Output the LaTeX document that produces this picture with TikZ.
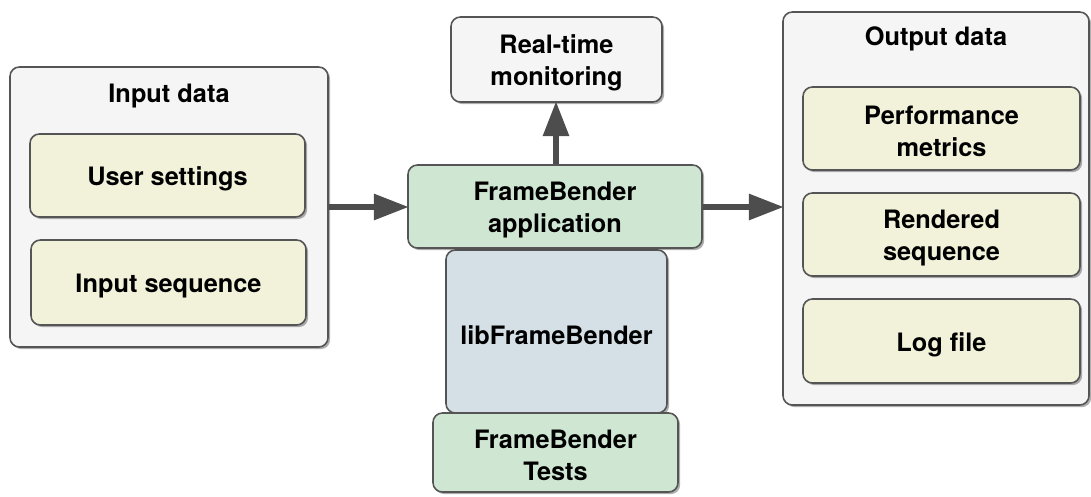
\documentclass[tikz,border=0pt]{standalone}
\usepackage{fontspec}
\setmainfont{TeX Gyre Heros}
\usetikzlibrary{shadows,arrows.meta}
\definecolor{edge}{HTML}{555555}
\definecolor{arrowgray}{HTML}{4D4D4D}
\definecolor{panelfill}{HTML}{F5F5F5}
\definecolor{datafill}{HTML}{F2F1DA}
\definecolor{appfill}{HTML}{CFE6D3}
\definecolor{libfill}{HTML}{D5E0E6}
\tikzset{
  box/.style 2 args={draw=edge, line width=1.2pt, rounded corners=7pt, inner sep=0pt,
    minimum width=#1, minimum height=#2,
    drop shadow={shadow xshift=1.6pt, shadow yshift=-1.6pt, opacity=0.45, fill=black!70}},
  boxtext/.style={align=center, inner sep=0pt, yshift=-2.5pt,
    font=\bfseries\fontsize{19}{24}\selectfont},
  panel/.style={fill=panelfill},
  datum/.style={fill=datafill},
  app/.style={fill=appfill},
  lib/.style={fill=libfill},
  title/.style={font=\bfseries\fontsize{19}{24}\selectfont, inner sep=0pt},
  flow/.style={draw=arrowgray, line width=3.8pt,
    -{Triangle[length=26pt,width=19pt]}, shorten >=-1pt},
}
\begin{document}
\begin{tikzpicture}[x=0.75pt,y=-0.75pt]
\useasboundingbox (0,0) rectangle (1091,496);

% input panel
\node[box={238.5pt}{210pt}, panel] (inpanel) at (169,207) {};
\node[title] (intitle) at (169,96) {Input data};
\node[box={206.25pt}{62.25pt}, datum, label={[boxtext]center:User settings}] (settings) at (167.5,175.5) {};
\node[box={206.25pt}{63.75pt}, datum, label={[boxtext]center:Input sequence}] (inseq) at (168.5,282.5) {};

% central application stack
\node[box={158.25pt}{63.75pt}, panel, label={[boxtext]center:{Real-time\\monitoring}}] (monitor) at (556.5,59.5) {};
\node[box={165.75pt}{122.25pt}, lib, label={[boxtext]center:libFrameBender}] (lib) at (556.5,331.5) {};
\node[box={183.75pt}{59.25pt}, app, label={[boxtext]center:{FrameBender\\Tests}}] (tests) at (555.5,452.5) {};
\node[box={220.5pt}{62.25pt}, app, label={[boxtext]center:{FrameBender\\application}}] (fbapp) at (555,206.5) {};

% output panel
\node[box={229.5pt}{294.75pt}, panel] (outpanel) at (936,208.5) {};
\node[title] (outtitle) at (936,39) {Output data};
\node[box={207.75pt}{62.25pt}, datum, label={[boxtext]center:{Performance\\metrics}}] (metrics) at (941.5,128.5) {};
\node[box={207.75pt}{62.25pt}, datum, label={[boxtext]center:{Rendered\\sequence}}] (rendered) at (941.5,234.5) {};
\node[box={207.75pt}{63pt}, datum, label={[boxtext]center:Log file}] (logfile) at (941.5,341) {};

% data flow
\draw[flow] (inpanel.east |- 0,207) -- (fbapp.west |- 0,207);
\draw[flow] (fbapp.east |- 0,207) -- (outpanel.west |- 0,207);
\draw[flow] (fbapp.north -| 556,0) -- (monitor.south -| 556,0);
\end{tikzpicture}
\end{document}
